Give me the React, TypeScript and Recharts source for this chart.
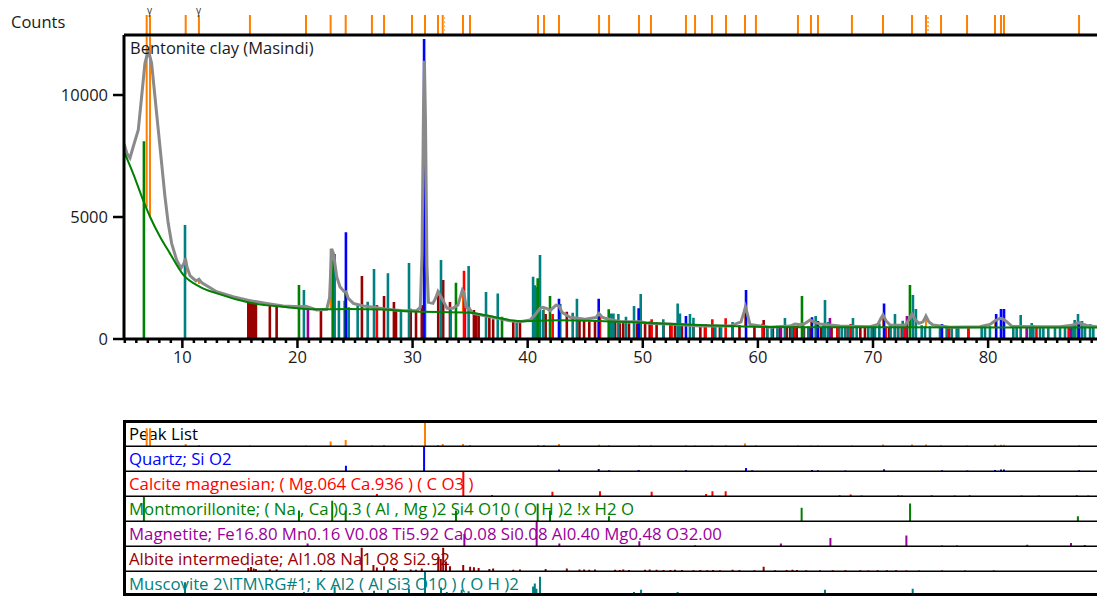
import React from "react";
import { ComposedChart, Line, XAxis, YAxis, ReferenceLine } from "recharts";

const FONT = "'Open Sans', 'Noto Sans', sans-serif";
const X_DOMAIN: [number, number] = [4.93, 89.46];
const Y_MAX = 12460;

const yTicks = [0, 5000, 10000];
const xMajorLabels = [10, 20, 30, 40, 50, 60, 70, 80];

// measured scan (2theta, counts)
const measured: [number, number][] = [
  [4.94, 8000], [5.19, 7600], [5.45, 7420], [5.73, 7880], [6.17, 8565], [6.46, 9930], [6.75, 11300],
  [7.04, 11840], [7.33, 11300], [7.62, 9930], [7.91, 8565], [8.2, 7200], [8.49, 5830], [8.77, 4740],
  [9.07, 3920], [9.5, 3240], [9.88, 2900], [10.14, 3100], [10.27, 3300], [10.4, 2950], [10.66, 2600],
  [11.18, 2380], [11.44, 2450], [11.7, 2300], [12.98, 1940], [14.4, 1730], [15.87, 1570], [17.32, 1460],
  [18.74, 1350], [20.22, 1320], [20.74, 1340], [21.67, 1190], [22.54, 1215], [22.79, 1700], [22.97, 3700],
  [23.13, 3500], [23.41, 2550], [23.69, 2140], [24.04, 1950], [24.21, 1940], [24.41, 1670], [24.85, 1460],
  [25.72, 1350], [26.59, 1300], [27.75, 1215], [29.19, 1160], [30.36, 1160], [30.67, 1300], [30.82, 3500],
  [30.95, 9500], [31.03, 11400], [31.12, 9000], [31.25, 3000], [31.38, 1500], [31.77, 1460], [32.03, 1700],
  [32.21, 1940], [32.38, 1800], [32.56, 1650], [32.73, 1500], [32.99, 1260], [33.51, 1260], [33.94, 1390],
  [34.2, 1800], [34.33, 2010], [34.47, 1900], [34.64, 1320], [34.99, 1200], [35.25, 1050], [36.72, 915],
  [38.46, 750], [39.33, 710], [40.2, 780], [40.63, 985], [41.07, 1260], [41.33, 1300], [41.68, 1250],
  [41.94, 1160], [42.46, 1390], [42.72, 1350], [42.98, 1100], [43.67, 890], [44.98, 810], [45.93, 880],
  [46.19, 1050], [46.45, 900], [46.72, 850], [48.02, 710], [49.76, 710], [50.63, 640], [52.37, 615],
  [54.97, 530], [57.58, 530], [58.53, 700], [58.79, 1100], [58.92, 1320], [59.05, 1100], [59.31, 600],
  [61.05, 480], [62.79, 530], [63.22, 615], [63.66, 580], [64.09, 640], [64.53, 780], [64.96, 680],
  [65.4, 615], [67.13, 530], [69.74, 500], [70.43, 600], [70.69, 850], [70.87, 985], [71.13, 750],
  [71.48, 575], [72.78, 560], [73.13, 800], [73.39, 1025], [73.65, 800], [74.0, 640], [74.34, 700],
  [74.6, 940], [74.86, 700], [75.21, 575], [76.69, 480], [79.29, 500], [80.16, 600], [80.6, 750],
  [81.03, 850], [81.29, 820], [81.64, 700], [82.07, 520], [84.51, 500], [86.25, 500], [87.29, 560],
  [87.72, 650], [87.98, 670], [88.33, 560], [89.46, 500],
];

// fitted background
const background: [number, number][] = [
  [4.93, 7680], [5.72, 6790], [6.58, 5700], [7.19, 5010], [8.06, 4190], [8.92, 3510], [10.05, 2650],
  [11.53, 2140], [13.0, 1870], [15.87, 1490], [18.74, 1320], [21.67, 1215], [24.5, 1230], [27.4, 1210],
  [29.62, 1140], [35.0, 1080], [37.6, 850], [39.33, 730], [42.72, 770], [46.19, 740], [50.0, 670],
  [54.97, 575], [61.05, 490], [70.0, 480], [89.46, 470],
];

// peak list: 2theta, peak top, background, relative height in peak-list row
const peakList: [number, number, number, number][] = [
  [6.9, 12400, 5400, 74], [7.19, 12400, 5000, 74], [10.29, 3300, 2650, 8], [11.44, 2420, 2250, 4],
  [15.87, 1600, 1500, 2], [20.74, 1330, 1290, 2], [22.88, 3700, 1250, 19], [24.19, 1900, 1250, 25],
  [26.47, 1350, 1250, 3], [27.52, 1300, 1220, 4], [29.95, 1200, 1160, 2], [31.08, 11400, 1160, 100],
  [32.21, 1940, 1180, 4], [32.62, 1600, 1170, 8], [34.38, 2010, 1120, 8], [34.99, 1300, 1100, 4],
  [40.9, 1300, 800, 4], [41.42, 1300, 800, 4], [42.72, 1390, 790, 8], [46.2, 1050, 750, 5],
  [47.07, 850, 740, 3], [49.67, 720, 700, 3], [50.71, 660, 650, 3], [53.75, 620, 600, 3],
  [54.54, 590, 580, 2], [56.01, 560, 550, 3], [57.23, 550, 540, 3], [58.88, 1320, 530, 10],
  [59.83, 560, 520, 3], [63.48, 620, 500, 2], [64.61, 780, 500, 2], [65.22, 620, 500, 2],
  [68.17, 520, 490, 2], [70.87, 985, 490, 6], [73.39, 1025, 490, 6], [74.6, 940, 490, 6],
  [75.91, 550, 485, 3], [78.17, 520, 485, 2], [80.6, 750, 480, 5], [81.12, 850, 480, 5],
  [81.38, 820, 480, 5], [87.9, 670, 480, 3],
];
const dottedPeaks = [32.73, 74.78];
const gammaMarks = [7.19, 11.44];

// reference sticks drawn in the scan (2theta, counts)
const quartzSticks: [number, number][] = [
  [24.21, 4380], [31.0, 12300], [42.72, 1650], [46.17, 1650], [49.64, 1260], [53.75, 940], [58.97, 2010],
  [64.7, 890], [65.22, 740], [70.96, 1460], [75.99, 615], [80.7, 1025], [81.12, 1230], [81.38, 1230], [87.9, 700],
];
const calciteSticks: [number, number][] = [
  [26.9, 1390], [34.47, 2800], [42.17, 1025], [46.28, 1025], [50.77, 810], [52.5, 640], [55.46, 615],
  [56.04, 810], [57.2, 850], [60.4, 620], [63.2, 520], [66.9, 520], [68.06, 615], [71.1, 500], [72.8, 520],
  [76.6, 500], [78.3, 520], [84.2, 470], [87.0, 480],
];
const montSticks: [number, number][] = [
  [6.66, 8110], [20.13, 2210], [23.06, 3240], [24.19, 2010], [33.77, 2310], [37.77, 915], [40.87, 2490],
  [41.94, 1760], [47.04, 1215], [63.83, 1760], [73.21, 2210], [87.8, 700],
];
const magSticks: [number, number][] = [
  [20.91, 1300], [34.55, 1350], [40.78, 2100], [42.75, 850], [49.7, 800], [62.0, 560], [66.26, 860],
  [72.95, 940], [83.35, 450], [87.18, 530],
];
const albiteSticks: [number, number][] = [
  [15.73, 1600], [15.9, 1610], [16.05, 1600], [16.2, 1560], [16.39, 1430], [17.6, 1430], [18.19, 1390],
  [22.04, 1160], [25.6, 2580], [27.52, 1760], [28.38, 1520], [28.56, 1230], [29.84, 1240], [30.3, 1190],
  [30.8, 1380], [32.23, 1980], [32.66, 2420], [33.25, 1520], [35.33, 1190], [35.5, 1050], [35.74, 985],
  [36.67, 970], [37.0, 810], [38.75, 710], [39.33, 780], [41.56, 1025], [43.4, 1120], [44.5, 780],
  [44.9, 780], [45.35, 720], [45.85, 780], [47.6, 720], [48.0, 650], [48.3, 740], [48.8, 650], [49.5, 640],
  [50.2, 700], [50.6, 720], [51.2, 700], [51.8, 680], [52.4, 640], [52.8, 640], [53.4, 640], [54.4, 530],
  [55.0, 530], [55.4, 530], [56.1, 530], [56.7, 530], [57.8, 560], [58.4, 560], [59.7, 490], [60.5, 780],
  [60.8, 480], [61.3, 480], [61.9, 480], [62.5, 530], [62.8, 530], [63.1, 530], [63.37, 530], [64.0, 450],
  [64.5, 450], [65.5, 450], [66.4, 450], [67.0, 450], [67.8, 450], [68.9, 450], [69.3, 450], [70.0, 450],
  [71.0, 450], [71.4, 450], [71.9, 450], [72.5, 450], [72.9, 450],
];
const muscSticks: [number, number][] = [
  [10.23, 4670], [20.56, 2010], [23.23, 3480], [23.6, 1570], [24.1, 1570], [24.45, 1300], [25.23, 1430],
  [26.1, 1530], [26.65, 2870], [27.86, 2700], [28.99, 1130], [29.69, 3120], [31.08, 4800], [32.47, 3240],
  [33.31, 1190], [34.87, 2990], [36.38, 1930], [37.4, 1870], [39.04, 670], [40.47, 2550], [40.62, 2200],
  [40.76, 2120], [41.07, 3440], [41.35, 1190], [42.83, 1430], [43.91, 1080], [44.28, 1650], [47.2, 1050],
  [47.3, 1050], [47.45, 1050], [47.88, 1025], [48.54, 915], [49.24, 1350], [49.82, 1840], [51.78, 810],
  [53.03, 1460], [53.23, 1050], [54.1, 1025], [54.4, 870], [56.3, 530], [56.8, 530], [57.8, 700],
  [60.82, 520], [61.2, 520], [61.69, 540], [62.35, 860], [62.94, 520], [63.94, 560], [64.38, 520],
  [65.02, 940], [65.68, 560], [65.83, 1600], [66.1, 700], [66.98, 560], [67.28, 560], [67.57, 540],
  [67.86, 520], [68.26, 860], [68.58, 520], [69.59, 540], [69.88, 540], [70.17, 560], [70.55, 640],
  [71.53, 560], [71.91, 1025], [72.2, 560], [72.58, 750], [73.47, 1800], [73.73, 1230], [74.23, 560],
  [74.52, 520], [74.95, 520], [75.82, 520], [76.4, 500], [76.84, 520], [77.27, 520], [77.41, 530],
  [78.28, 520], [79.44, 500], [79.73, 500], [80.16, 520], [82.19, 520], [82.48, 520], [82.83, 985],
  [83.64, 520], [83.79, 655], [83.93, 560], [84.51, 520], [84.8, 520], [85.23, 500], [85.81, 500],
  [86.25, 520], [86.68, 520], [87.4, 560], [87.52, 780], [87.81, 1025], [88.16, 740], [88.42, 640],
  [88.86, 615], [89.14, 560],
];

// reference patterns, relative intensity (2theta, %)
const quartzRef: [number, number][] = [
  [24.21, 22], [31.0, 100], [42.72, 6], [46.17, 8], [47.07, 3], [49.64, 4], [53.75, 3], [58.97, 12],
  [59.5, 3], [64.7, 4], [65.22, 3], [67.6, 2], [70.96, 7], [76.0, 3], [78.2, 2], [80.6, 4], [81.12, 6],
  [81.38, 6], [87.9, 3],
];
const calciteRef: [number, number][] = [
  [26.9, 8], [34.41, 100], [36.9, 4], [42.15, 18], [46.28, 20], [50.77, 18], [55.5, 8], [56.05, 20],
  [57.2, 20], [67.1, 3], [68.06, 6], [69.0, 2], [72.2, 3], [72.5, 2], [75.1, 3], [77.1, 2], [78.4, 3],
  [82.9, 2], [84.4, 2], [87.7, 3], [88.7, 2],
];
const montRef: [number, number][] = [
  [6.66, 100], [20.13, 44], [23.02, 84], [24.19, 44], [33.77, 44], [37.74, 17], [40.87, 73], [41.94, 44],
  [47.06, 20], [63.8, 55], [73.22, 73], [87.8, 20],
];
const magRef: [number, number][] = [
  [20.88, 10], [34.5, 50], [40.78, 100], [42.75, 10], [49.7, 20], [54.55, 3], [62.0, 10], [66.3, 33],
  [72.9, 44], [76.0, 2], [77.3, 2], [83.4, 5], [87.2, 12], [88.4, 4],
];
const albiteRef: [number, number][] = [
  [15.73, 12], [15.97, 17], [16.2, 10], [16.39, 8], [17.6, 6], [18.19, 6], [22.04, 4], [25.58, 97],
  [26.6, 25], [26.9, 15], [27.52, 20], [28.38, 12], [28.56, 8], [29.84, 6], [30.3, 5], [30.8, 10],
  [32.23, 58], [32.45, 50], [32.66, 97], [32.9, 40], [33.25, 20], [34.4, 25], [35.0, 18], [35.33, 16],
  [35.74, 12], [36.67, 8], [37.0, 10], [38.75, 5], [39.33, 6], [41.56, 8], [43.4, 10], [44.5, 6],
  [44.9, 6], [45.35, 5], [45.85, 6], [47.6, 5], [48.0, 4], [48.3, 6], [48.8, 4], [50.2, 5], [50.6, 6],
  [51.2, 5], [51.8, 4], [52.4, 4], [52.8, 5], [53.4, 4], [54.4, 3], [55.0, 4], [55.6, 3], [56.1, 4],
  [56.7, 3], [57.8, 5], [58.4, 4], [59.7, 3], [60.5, 18], [61.5, 3], [62.5, 4], [63.0, 5], [63.4, 4],
  [64.2, 3], [65.4, 3], [66.5, 3], [67.6, 3], [68.9, 3], [69.6, 2], [70.4, 3], [71.2, 3], [72.0, 3],
  [72.9, 2], [74.0, 2], [76.0, 2], [78.0, 2], [80.5, 2],
];
const muscRef: [number, number][] = [
  [10.23, 57], [20.56, 17], [23.23, 39], [23.6, 10], [24.1, 10], [25.23, 8], [26.1, 8], [26.65, 22],
  [27.86, 26], [29.69, 30], [31.08, 100], [32.47, 35], [32.97, 17], [34.27, 26], [34.87, 20], [36.38, 12],
  [37.0, 8], [37.4, 12], [40.47, 40], [40.62, 52], [40.76, 30], [41.07, 80], [42.83, 10], [44.28, 12],
  [47.3, 6], [49.24, 17], [49.85, 26], [53.03, 17], [54.1, 8], [56.5, 4], [58.0, 5], [62.3, 8],
  [65.02, 6], [65.83, 26], [68.26, 6], [71.91, 8], [73.45, 30], [73.73, 10], [75.0, 4], [77.4, 3],
  [79.5, 3], [82.83, 8], [84.5, 3], [86.2, 3], [87.8, 8], [88.9, 4],
];

const ORANGE = "#ff8000";

// vertical sticks as broken line segments
function sticks(list: [number, number][], base?: (i: number) => number) {
  const out: { x: number; y: number | null }[] = [];
  list.forEach(([x, h], i) => {
    out.push({ x, y: base ? base(i) : 0 }, { x, y: h }, { x, y: null });
  });
  return out;
}

const stickLine = (key: string, data: any[], color: string, w: number, dash?: string) => (
  <Line
    key={key}
    data={data}
    dataKey="y"
    type="linear"
    stroke={color}
    strokeWidth={w}
    strokeDasharray={dash}
    dot={false}
    activeDot={false}
    connectNulls={false}
    isAnimationActive={false}
  />
);

function XTick({ x, y, payload }: any) {
  const v = payload.value;
  const major = xMajorLabels.includes(v);
  return (
    <g>
      <line x1={x} x2={x} y1={y} y2={y + (major ? 9 : 4)} stroke="#000" strokeWidth={2.5} />
      {major ? (
        <text x={x} y={y + 24} textAnchor="middle" fontSize={16.5} fontFamily={FONT} fill="#1a1a1a">
          {v}
        </text>
      ) : null}
    </g>
  );
}

const minorTicks = Array.from({ length: 85 }, (_, i) => i + 5);

const rows = [
  { label: "Peak List", color: "#000", stick: ORANGE, data: peakList.map(p => [p[0], p[3]] as [number, number]) },
  { label: "Quartz; Si O2", color: "#0000ff", stick: "#0000ff", data: quartzRef },
  { label: "Calcite magnesian; ( Mg.064 Ca.936 ) ( C O3 )", color: "#ff0000", stick: "#ff0000", data: calciteRef },
  { label: "Montmorillonite; ( Na , Ca )0.3 ( Al , Mg )2 Si4 O10 ( O H )2 !x H2 O", color: "#008000", stick: "#008000", data: montRef },
  { label: "Magnetite; Fe16.80 Mn0.16 V0.08 Ti5.92 Ca0.08 Si0.08 Al0.40 Mg0.48 O32.00", color: "#990099", stick: "#990099", data: magRef },
  { label: "Albite intermediate; Al1.08 Na1 O8 Si2.92", color: "#990000", stick: "#990000", data: albiteRef },
  { label: "Muscovite 2\\ITM\\RG#1; K Al2 ( Al Si3 O10 ) ( O H )2", color: "#008080", stick: "#008080", data: muscRef },
];

const ROW_TOP = 422;
const ROW_H = 25;

export default function App() {
  return (
    <div style={{ position: "absolute", left: 0, top: 0, width: 1097, height: 596, background: "#fff", fontFamily: FONT, overflow: "hidden" }}>
      <div style={{ position: "absolute", left: 11, top: 10, fontSize: 16.5, color: "#1a1a1a" }}>Counts</div>

      {/* peak position strip */}
      <div style={{ position: "absolute", left: 0, top: 0 }}>
        <ComposedChart width={1097} height={35} margin={{ top: 15, right: 0, bottom: 0, left: 124 }}>
          <XAxis type="number" dataKey="x" domain={X_DOMAIN} allowDataOverflow hide />
          <YAxis type="number" domain={[0, 1]} hide />
          {stickLine("strip", sticks(peakList.map(p => [p[0], 1] as [number, number])), ORANGE, 2)}
          {stickLine("stripDot", sticks(dottedPeaks.map(p => [p, 1] as [number, number])), "#ffb060", 2, "2 2")}
        </ComposedChart>
      </div>
      {gammaMarks.map((g, i) => (
        <div key={i} style={{ position: "absolute", left: 124 + ((g - X_DOMAIN[0]) / (X_DOMAIN[1] - X_DOMAIN[0])) * 973 - 3, top: 3, fontSize: 10, color: "#333" }}>γ</div>
      ))}

      {/* main scan */}
      <div style={{ position: "absolute", left: 0, top: 0 }}>
        <ComposedChart width={1097} height={380} margin={{ top: 35, right: 0, bottom: 0, left: 0 }}>
          <XAxis
            type="number"
            dataKey="x"
            domain={X_DOMAIN}
            allowDataOverflow
            ticks={minorTicks}
            interval={0}
            tick={<XTick />}
            tickLine={false}
            tickSize={0}
            tickMargin={0}
            height={41}
            axisLine={{ stroke: "#000", strokeWidth: 3 }}
          />
          <YAxis
            type="number"
            domain={[0, Y_MAX]}
            allowDataOverflow
            ticks={yTicks}
            width={124}
            tickSize={11}
            tickMargin={5}
            tick={{ fontSize: 16.5, fill: "#1a1a1a", fontFamily: FONT }}
            tickLine={{ stroke: "#000", strokeWidth: 2.5 }}
            axisLine={{ stroke: "#000", strokeWidth: 3 }}
          />
          {stickLine("peaks", sticks(peakList.map(p => [p[0], p[1]] as [number, number]), i => peakList[i][2]), ORANGE, 2)}
          {stickLine("albite", sticks(albiteSticks), "#990000", 2.6)}
          {stickLine("mag", sticks(magSticks), "#990099", 2.6)}
          {stickLine("musc", sticks(muscSticks), "#008080", 2.6)}
          {stickLine("calcite", sticks(calciteSticks), "#ff0000", 2.6)}
          {stickLine("mont", sticks(montSticks), "#008000", 2.6)}
          {stickLine("quartz", sticks(quartzSticks), "#0000ff", 2.6)}
          <Line
            data={measured.map(([x, y]) => ({ x, y }))}
            dataKey="y"
            type="linear"
            stroke="#8a8a8a"
            strokeWidth={3}
            dot={false}
            activeDot={false}
            isAnimationActive={false}
          />
          <Line
            data={background.map(([x, y]) => ({ x, y }))}
            dataKey="y"
            type="monotone"
            stroke="#008000"
            strokeWidth={2}
            dot={false}
            activeDot={false}
            isAnimationActive={false}
          />
          <ReferenceLine y={Y_MAX} stroke="#000" strokeWidth={3} />
        </ComposedChart>
      </div>
      <div style={{ position: "absolute", left: 130, top: 36, fontSize: 16.5, color: "#1a1a1a" }}>Bentonite clay (Masindi)</div>

      {/* reference pattern panel */}
      {rows.map((r, i) => (
        <React.Fragment key={r.label}>
          <div style={{ position: "absolute", left: 129, top: ROW_TOP + ROW_H * i, height: 24, lineHeight: "24px", fontSize: 16.8, color: r.color, whiteSpace: "nowrap" }}>
            {r.label}
          </div>
          <div style={{ position: "absolute", left: 0, top: ROW_TOP + ROW_H * i }}>
            <ComposedChart width={1097} height={24} margin={{ top: 0, right: 0, bottom: 0, left: 124 }}>
              <XAxis type="number" dataKey="x" domain={X_DOMAIN} allowDataOverflow hide />
              <YAxis type="number" domain={[0, 100]} hide />
              {stickLine("r" + i, sticks(r.data), r.stick, 2)}
            </ComposedChart>
          </div>
        </React.Fragment>
      ))}
      <svg style={{ position: "absolute", left: 0, top: 0 }} width={1097} height={596}>
        <line x1={123} x2={1097} y1={421.5} y2={421.5} stroke="#000" strokeWidth={3} />
        <line x1={124.5} x2={124.5} y1={420} y2={596} stroke="#000" strokeWidth={3} />
        {rows.slice(0, 6).map((_, i) => (
          <line key={i} x1={124} x2={1097} y1={ROW_TOP + ROW_H * (i + 1) - 0.75} y2={ROW_TOP + ROW_H * (i + 1) - 0.75} stroke="#000" strokeWidth={1.5} />
        ))}
        <line x1={123} x2={1097} y1={594.5} y2={594.5} stroke="#000" strokeWidth={3} />
      </svg>
    </div>
  );
}
